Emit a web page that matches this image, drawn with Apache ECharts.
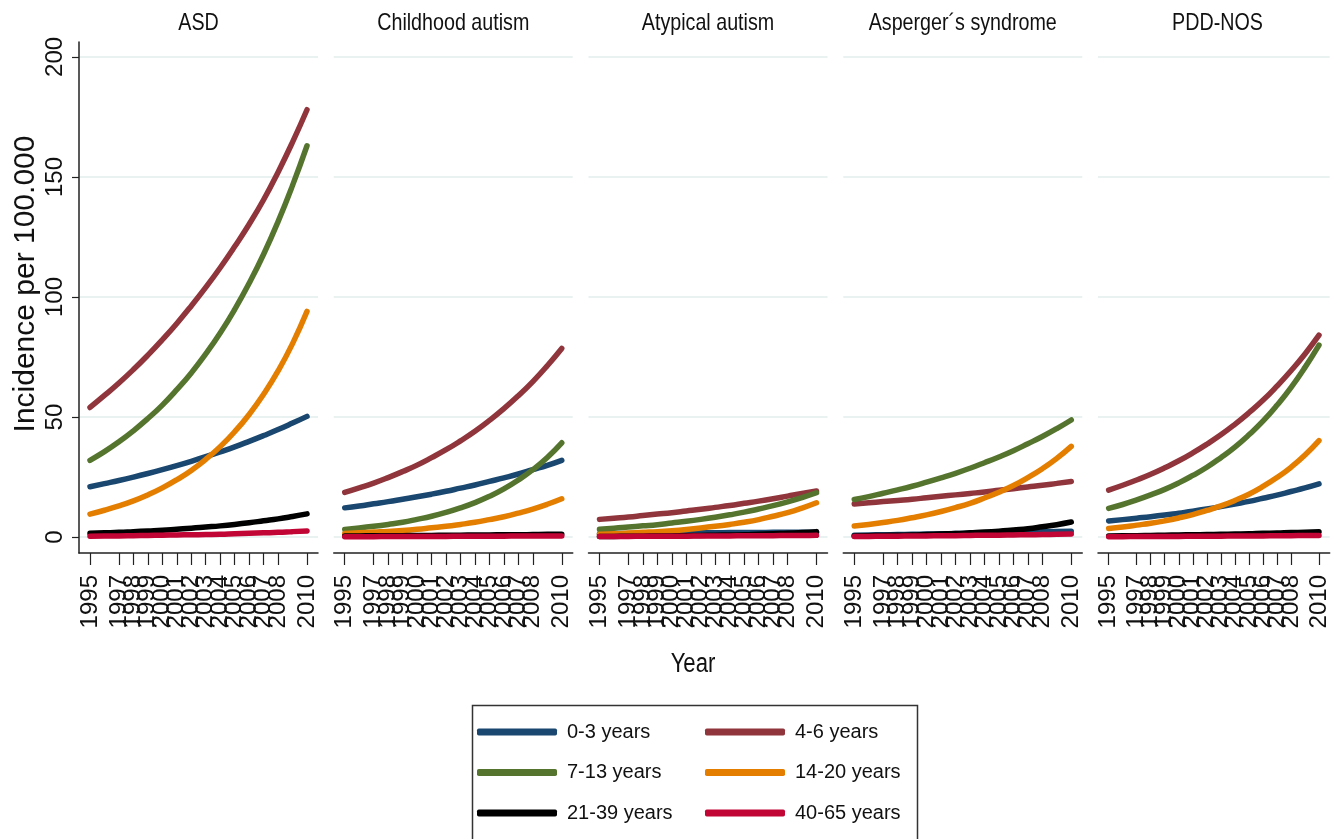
<!DOCTYPE html>
<html>
<head>
<meta charset="utf-8">
<script src="https://cdn.jsdelivr.net/npm/echarts@6/dist/echarts.min.js"></script>
<style>
  html, body { margin: 0; padding: 0; background: #fff; }
  #main { width: 1331px; height: 839px; }
</style>
</head>
<body>
<div id="main"></div>
<script>
// years on the x axis, same for every panel
var years = [1995, 1996, 1997, 1998, 1999, 2000, 2001, 2002, 2003, 2004, 2005, 2006, 2007, 2008, 2009, 2010];
var yTicks = [0, 50, 100, 150, 200];
var panelTitles = ['ASD', 'Childhood autism', 'Atypical autism', 'Asperger´s syndrome', 'PDD-NOS'];
var groupNames = ['0-3 years', '4-6 years', '7-13 years', '14-20 years', '21-39 years', '40-65 years'];

// incidence per 100.000, one row per age group (same order as groupNames)
var asd = [
    [21, 22.3, 23.6, 25, 26.5, 28.1, 29.8, 31.6, 33.5, 35.5, 37.6, 39.9, 42.3, 44.8, 47.5, 50.3],
    [54, 59, 64.2, 69.8, 75.8, 82.2, 89, 96.3, 104, 112.2, 121, 130.3, 140.5, 152, 164.5, 178],
    [32, 35.6, 39.7, 44.3, 49.4, 55, 61.4, 68.4, 76.3, 85, 94.8, 105.7, 117.8, 131.4, 146.5, 163],
    [9.6, 11.2, 13, 15.1, 17.6, 20.5, 23.9, 27.8, 32.4, 37.7, 43.9, 51.1, 59.5, 69.2, 80.6, 94],
    [1.6, 1.8, 2, 2.3, 2.6, 2.9, 3.3, 3.7, 4.2, 4.7, 5.3, 6, 6.8, 7.6, 8.6, 9.7],
    [0.4, 0.5, 0.5, 0.6, 0.7, 0.8, 0.9, 1, 1.1, 1.2, 1.4, 1.6, 1.8, 2, 2.3, 2.6]
];
var childhood = [
    [12.2, 13, 13.9, 14.8, 15.8, 16.8, 17.9, 19.1, 20.4, 21.7, 23.2, 24.7, 26.3, 28.1, 29.9, 32],
    [18.6, 20.5, 22.5, 24.8, 27.3, 30, 33.1, 36.4, 40.1, 44.1, 48.6, 53.5, 58.9, 64.8, 71.4, 78.6],
    [3.2, 3.8, 4.5, 5.3, 6.2, 7.4, 8.7, 10.3, 12.2, 14.4, 17, 20.1, 23.8, 28.1, 33.2, 39.3],
    [1.5, 1.8, 2.1, 2.4, 2.8, 3.3, 3.9, 4.5, 5.3, 6.2, 7.3, 8.5, 10, 11.7, 13.7, 16],
    [0.5, 0.5, 0.6, 0.6, 0.6, 0.7, 0.7, 0.8, 0.8, 0.9, 0.9, 1, 1, 1.1, 1.2, 1.2],
    [0.2, 0.2, 0.2, 0.3, 0.3, 0.3, 0.3, 0.3, 0.4, 0.4, 0.4, 0.4, 0.5, 0.5, 0.5, 0.5]
];
var atypical = [
    [1.4, 1.5, 1.5, 1.6, 1.6, 1.7, 1.7, 1.8, 1.8, 1.9, 1.9, 1.9, 2, 2, 2, 2],
    [7.4, 7.9, 8.4, 9, 9.6, 10.2, 10.9, 11.6, 12.4, 13.2, 14.1, 15, 16, 17.1, 18.2, 19.2],
    [3.3, 3.7, 4.2, 4.7, 5.2, 5.9, 6.6, 7.4, 8.3, 9.3, 10.4, 11.7, 13.1, 14.7, 16.5, 18.5],
    [1.2, 1.4, 1.7, 2, 2.3, 2.7, 3.2, 3.8, 4.5, 5.3, 6.2, 7.3, 8.7, 10.2, 12.1, 14.3],
    [0.3, 0.3, 0.4, 0.4, 0.5, 0.5, 0.6, 0.7, 0.8, 0.9, 1, 1.2, 1.4, 1.6, 1.9, 2.3],
    [0.3, 0.3, 0.3, 0.4, 0.4, 0.4, 0.4, 0.5, 0.5, 0.5, 0.6, 0.6, 0.6, 0.7, 0.7, 0.8]
];
var asperger = [
    [0.8, 0.9, 1, 1.1, 1.2, 1.3, 1.4, 1.5, 1.6, 1.7, 1.8, 1.9, 2.1, 2.2, 2.4, 2.5],
    [13.8, 14.3, 14.8, 15.3, 15.8, 16.4, 17, 17.6, 18.2, 18.8, 19.5, 20.2, 20.9, 21.6, 22.4, 23.2],
    [15.7, 16.9, 18.3, 19.7, 21.2, 22.9, 24.7, 26.6, 28.7, 31, 33.4, 36, 38.9, 41.9, 45.2, 48.8],
    [4.6, 5.3, 6.1, 7, 8.1, 9.3, 10.7, 12.3, 14.1, 16.3, 18.7, 21.5, 24.8, 28.5, 32.8, 37.8],
    [0.5, 0.6, 0.7, 0.8, 0.9, 1.1, 1.3, 1.5, 1.8, 2.1, 2.5, 3, 3.5, 4.3, 5.2, 6.3],
    [0.3, 0.3, 0.4, 0.4, 0.5, 0.5, 0.6, 0.6, 0.7, 0.8, 0.8, 0.9, 1, 1.1, 1.2, 1.3]
];
var pddnos = [
    [6.7, 7.3, 7.9, 8.5, 9.2, 10, 10.8, 11.7, 12.7, 13.8, 14.9, 16.2, 17.5, 19, 20.5, 22.2],
    [19.6, 21.6, 23.8, 26.2, 28.9, 31.8, 35.1, 38.7, 42.6, 47, 51.8, 57, 62.9, 69.3, 76.3, 84.1],
    [12, 13.6, 15.5, 17.6, 19.9, 22.6, 25.7, 29.1, 33.1, 37.5, 42.6, 48.3, 54.9, 62.3, 70.7, 80],
    [3.6, 4.2, 5, 5.8, 6.8, 8, 9.4, 11.1, 13, 15.3, 17.9, 21.1, 24.8, 29.1, 34.2, 40.2],
    [0.5, 0.6, 0.6, 0.7, 0.8, 0.9, 1, 1.1, 1.2, 1.3, 1.4, 1.6, 1.7, 1.9, 2, 2.2],
    [0.2, 0.2, 0.3, 0.3, 0.3, 0.3, 0.4, 0.4, 0.4, 0.5, 0.5, 0.5, 0.6, 0.6, 0.7, 0.7]
];
var panelData = [asd, childhood, atypical, asperger, pddnos];

// stata s2color palette
var colors = ['#1a476f', '#90353b', '#55752f', '#e37e00', '#000000', '#c10534'];

var SANS = "'Liberation Sans', Arial, sans-serif";
var SQUEEZE = 0.82; // the source picture is squashed horizontally

var grids = [], xAxes = [], yAxes = [], series = [], graphics = [];
var pitch = 254.75, gLeft = 79, gWidth = 239;

for (var p = 0; p < panelTitles.length; p++) {
    grids.push({ left: gLeft + p * pitch, top: 42, width: gWidth, height: 511 });
    xAxes.push({
        gridIndex: p,
        type: 'value',
        min: 1994.24,
        max: 2010.76,
        axisLine: { show: true, onZero: false, lineStyle: { color: '#222', width: 1.5 } },
        axisTick: { show: true, customValues: years, length: 12, lineStyle: { color: '#222', width: 1.2 } },
        axisLabel: {
            customValues: years, rotate: 90, margin: 22,
            showMinLabel: true, showMaxLabel: true, hideOverlap: false,
            fontSize: 24, fontFamily: SANS, color: '#111',
            formatter: function (v) { return String(v); }
        },
        splitLine: { show: false }
    });
    yAxes.push({
        gridIndex: p,
        type: 'value',
        min: -6.6,
        max: 206.2,
        axisLine: { show: p === 0, onZero: false, lineStyle: { color: '#222', width: 1.5 } },
        axisTick: { show: p === 0, customValues: yTicks, length: 7, lineStyle: { color: '#222', width: 1.2 } },
        axisLabel: {
            show: p === 0, customValues: yTicks, rotate: 90, margin: 12,
            showMinLabel: true, showMaxLabel: true,
            fontSize: 24, fontFamily: SANS, color: '#111'
        },
        splitLine: { show: true, lineStyle: { color: '#e3eded', width: 1.5 } }
    });
    for (var g = 0; g < groupNames.length; g++) {
        var rows = panelData[p][g];
        series.push({
            type: 'line',
            name: groupNames[g],
            xAxisIndex: p,
            yAxisIndex: p,
            data: years.map(function (yr, k) { return [yr, rows[k]]; }),
            smooth: true,
            symbol: 'none',
            lineStyle: { width: 5.5, color: colors[g], cap: 'round' },
            itemStyle: { color: colors[g] }
        });
    }
    graphics.push({
        type: 'text', x: gLeft + p * pitch + gWidth / 2, y: 23, scaleX: SQUEEZE,
        style: {
            text: panelTitles[p], fontSize: 24, fontFamily: SANS, fill: '#111',
            align: 'center', verticalAlign: 'middle'
        }
    });
}

graphics.push({
    type: 'text', x: 693, y: 665, scaleX: SQUEEZE,
    style: { text: 'Year', fontSize: 27, fontFamily: SANS, fill: '#111', align: 'center', verticalAlign: 'middle' }
});
graphics.push({
    type: 'text', x: 26, y: 284, rotation: Math.PI / 2,
    style: { text: 'Incidence per 100.000', fontSize: 30, fontFamily: SANS, fill: '#111', align: 'center', verticalAlign: 'middle' }
});
graphics.push({
    type: 'rect', left: 470, top: 703,
    shape: { width: 445, height: 160 },
    style: { fill: 'none', stroke: '#333', lineWidth: 1.5 }
});

function legendCol(names, left) {
    return {
        data: names,
        orient: 'vertical',
        left: left,
        top: 721,
        padding: 0,
        itemWidth: 80,
        itemHeight: 7,
        itemGap: 18.5,
        icon: 'roundRect',
        textStyle: { fontFamily: SANS, fontSize: 20, color: '#111', lineHeight: 22, padding: [0, 0, 0, 5] }
    };
}

var chart = echarts.init(document.getElementById('main'));
chart.setOption({
    backgroundColor: '#fff',
    animation: false,
    grid: grids,
    xAxis: xAxes,
    yAxis: yAxes,
    legend: [
        legendCol(['0-3 years', '7-13 years', '21-39 years'], 477),
        legendCol(['4-6 years', '14-20 years', '40-65 years'], 705)
    ],
    graphic: graphics,
    series: series
});
</script>
</body>
</html>
